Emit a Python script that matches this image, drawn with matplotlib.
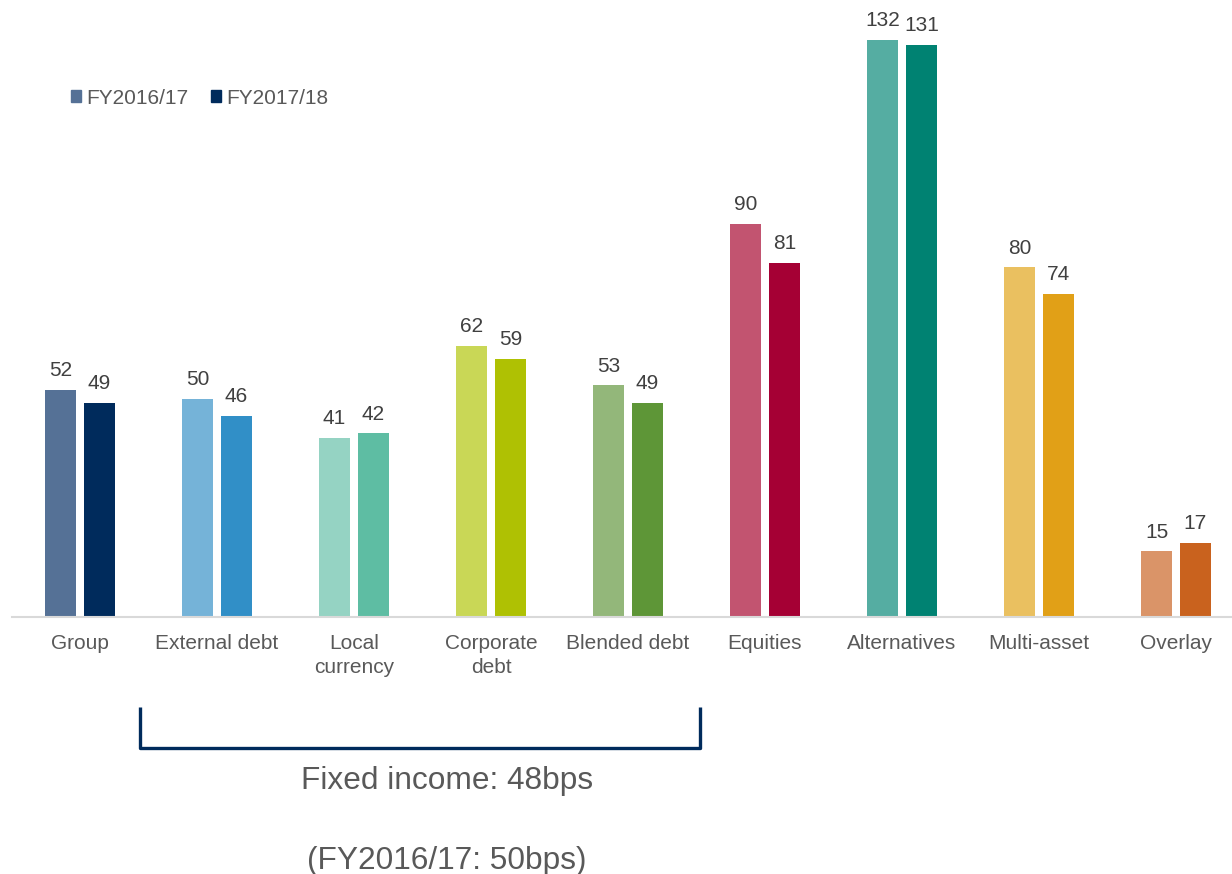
import matplotlib.pyplot as plt
import matplotlib.patches as mpatches
import numpy as np

plt.rcParams['font.family'] = ['Liberation Sans', 'DejaVu Sans']

categories = ["Group", "External debt", "Local\ncurrency", "Corporate\ndebt",
              "Blended debt", "Equities", "Alternatives", "Multi-asset", "Overlay"]
fy1617 = [52, 50, 41, 62, 53, 90, 132, 80, 15]
fy1718 = [49, 46, 42, 59, 49, 81, 131, 74, 17]

light_cols = ["#557196", "#75B3D8", "#95D3C3", "#C9D756", "#93B77A",
              "#C25470", "#55ADA2", "#EAC060", "#DA9468"]
dark_cols = ["#002B5C", "#318FC7", "#5EBDA3", "#AFC103", "#5E9637",
             "#A50034", "#008272", "#E1A017", "#C9621E"]

W, H = 1232, 874
fig = plt.figure(figsize=(W / 100, H / 100), dpi=100)
# axes box in pixels: left 11.5, baseline at y=617, 4.37 px per unit
ppu = 4.37
ymax = 140
ax = fig.add_axes([11.5 / W, (H - 617) / H, 1233 / W, ymax * ppu / H])

x = np.arange(len(categories))
bw = 0.226
off = 0.142
b1 = ax.bar(x - off, fy1617, bw, color=light_cols)
b2 = ax.bar(x + off, fy1718, bw, color=dark_cols)

for bars, vals in ((b1, fy1617), (b2, fy1718)):
    for b, v in zip(bars, vals):
        ax.annotate(str(v), (b.get_x() + b.get_width() / 2, v),
                    xytext=(0, 7), textcoords="offset points",
                    ha="center", va="bottom", fontsize=15, color="#404040")

ax.set_xlim(-0.5, 8.5)
ax.set_ylim(0, ymax)
ax.set_yticks([])
ax.set_xticks(x)
ax.set_xticklabels(categories, fontsize=15, color="#595959", linespacing=1.35)
ax.tick_params(axis="x", length=0, pad=12)
for s in ("top", "right", "left"):
    ax.spines[s].set_visible(False)
ax.spines["bottom"].set_color("#D9D9D9")
ax.spines["bottom"].set_linewidth(1.5)

# bracket under the fixed income categories
bx0, bx1 = 0.438, 4.525
by0, by1 = -20.6, -30.0
ax.plot([bx0, bx0, bx1, bx1], [by0, by1, by1, by0], color="#002B5C",
        lw=2.4, clip_on=False, solid_joinstyle="round", solid_capstyle="butt")
tx = 2.68
ax.text(tx, -37.6, "Fixed income: 48bps", ha="center", va="center",
        fontsize=22.8, color="#595959", clip_on=False)
ax.text(tx, -55.8, "(FY2016/17: 50bps)", ha="center", va="center",
        fontsize=22.8, color="#595959", clip_on=False)

handles = [mpatches.Patch(color="#557196", label="FY2016/17"),
           mpatches.Patch(color="#002B5C", label="FY2017/18")]
fig.legend(handles=handles, loc="center left", bbox_to_anchor=(52 / W, 1 - 98 / H),
           ncol=2, frameon=False, fontsize=15, handlelength=0.48, handleheight=0.48,
           handletextpad=0.25, columnspacing=1.1, labelcolor="#595959")

fig.savefig("out.png", dpi=100)
